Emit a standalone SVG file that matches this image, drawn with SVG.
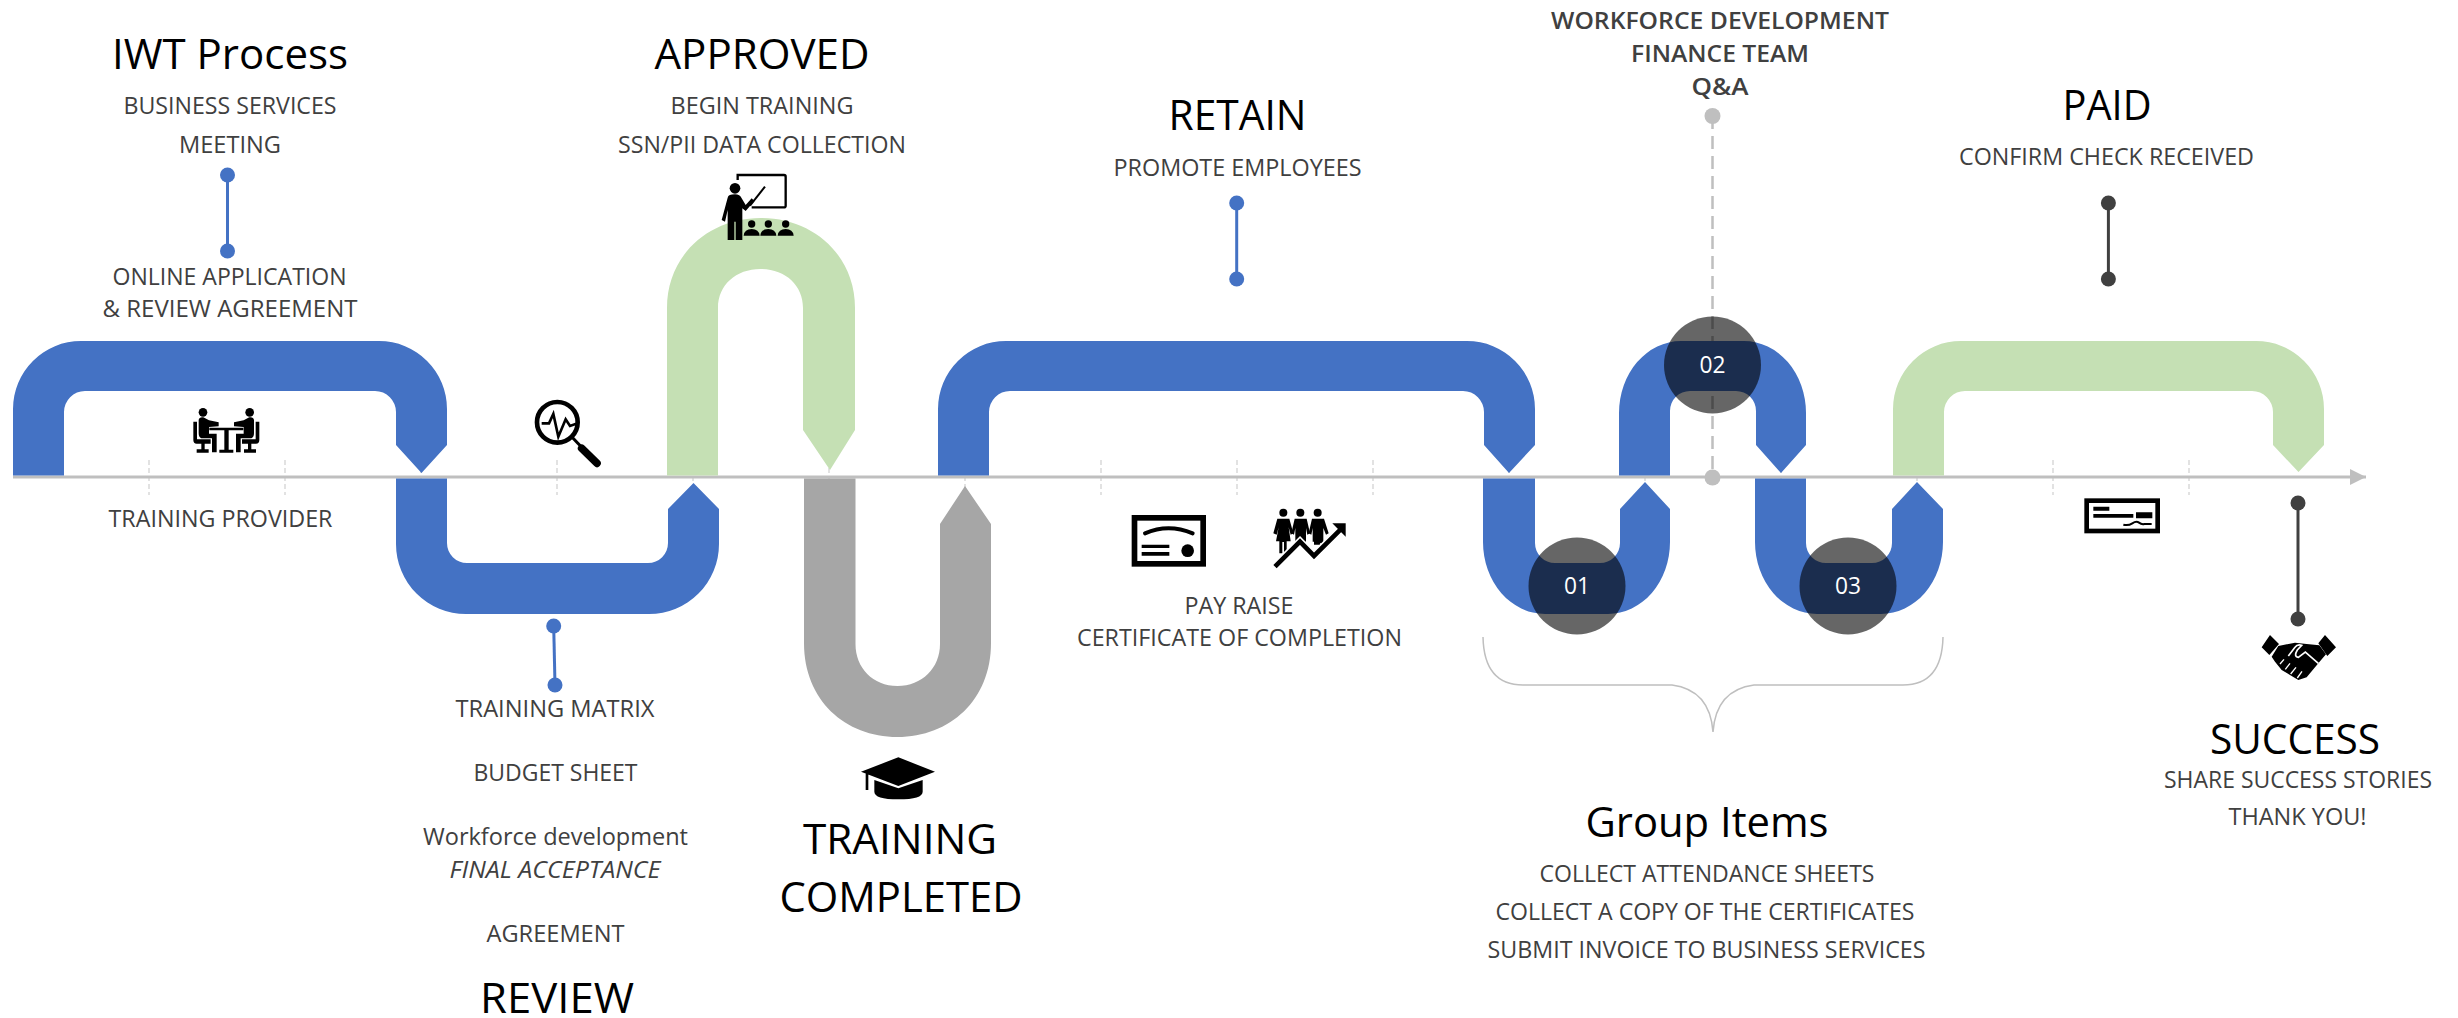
<svg xmlns="http://www.w3.org/2000/svg" width="2458" height="1018" viewBox="0 0 2458 1018">
<style>
text{font-family:"Open Sans","Noto Sans","Liberation Sans",sans-serif;text-anchor:middle}
.t{font-size:42px;fill:#000}
.b{font-size:24px;fill:#404040}
.s{font-weight:600}
.i{font-style:italic}
.n{font-size:23px;fill:#fff}
.blue{fill:#4472C4}.green{fill:#C5E0B4}.gray{fill:#A6A6A6}
.disc{fill:#000;fill-opacity:.6}
.tick{stroke:#D9D9D9;stroke-width:1.5;stroke-dasharray:5 3;fill:none}
.sb{stroke:#4472C4;stroke-width:3;fill:none}.db{fill:#4472C4}
.sd{stroke:#404040;stroke-width:3;fill:none}.dd{fill:#404040}
.k{fill:#000}.o{fill:none;stroke:#000}.w{fill:none;stroke:#fff}
</style>
<defs>
<marker id="arrow" markerUnits="userSpaceOnUse" markerWidth="17" markerHeight="18" refX="16" refY="9" orient="auto"><path d="M0 1L16 9L0 17Z" fill="#BFBFBF"/></marker>
</defs>
<g id="connectors">
<path class="tick" d="M149 460V495M285 460V495M421 460V495M557 460V495M693 460V495M829 460V495M965 460V495M1101 460V495M1237 460V495M1373 460V495M1509 460V495M1645 460V495M1781 460V495M1917 460V495M2053 460V495M2189 460V495"/>
<path d="M13 477H2366" stroke="#BFBFBF" stroke-width="3" fill="none" marker-end="url(#arrow)"/>
<path class="sb" d="M227.500 175V251"/><circle class="db" cx="227.500" cy="175" r="7.500"/><circle class="db" cx="227.500" cy="251" r="7.500"/>
<path class="sb" d="M553.700 626L555 685"/><circle class="db" cx="553.700" cy="626" r="7.500"/><circle class="db" cx="555" cy="685" r="7.500"/>
<path class="sb" d="M1236.700 203V279"/><circle class="db" cx="1236.700" cy="203" r="7.500"/><circle class="db" cx="1236.700" cy="279" r="7.500"/>
<path class="sd" d="M2108.400 203V279"/><circle class="dd" cx="2108.400" cy="203" r="7.500"/><circle class="dd" cx="2108.400" cy="279" r="7.500"/>
<path class="sd" d="M2298 503V619"/><circle class="dd" cx="2298" cy="503" r="7.500"/><circle class="dd" cx="2298" cy="619" r="7.500"/>
<path d="M1712.500 116V477" stroke="#BFBFBF" stroke-width="2.500" stroke-dasharray="13 7" fill="none"/>
<circle cx="1712.500" cy="116" r="8" fill="#BFBFBF"/><circle cx="1712.500" cy="477.500" r="8" fill="#BFBFBF"/>
<path d="M1483 637Q1484 685 1523 685H1672Q1710 690 1713 732Q1716 690 1754 685H1903Q1942 685 1943 637" stroke="#BFBFBF" stroke-width="1.500" fill="none"/>
</g>
<g id="node-iwt">
<path class="blue" d="M13 475.500V409A68 68 0 0 1 81 341H379A68 68 0 0 1 447 409V445L421.500 473L396 445V412A21 21 0 0 0 375 391H85A21 21 0 0 0 64 412V475.500Z"/>
<g transform="translate(180 395) scale(.33333)">
<circle class="k" cx="69" cy="52" r="13"/>
<path class="k" d="M56 75Q58 65 70 67L87 76L116 82V94L87 96V116H110V172H96V130H64Q56 127 56 115ZM40 80H51V133H92V146H74V163H86V173H50V163H64V146H50Q40 146 40 135Z"/>
<circle class="k" cx="209" cy="52" r="13"/>
<path class="k" d="M222 75Q220 65 208 67L191 76L162 82V94L191 96V116H168V172H182V130H214Q222 127 222 115ZM238 80H227V133H186V146H204V163H192V173H228V163H214V146H228Q238 146 238 135Z"/>
<path class="k" d="M88 98H190V106H146V164H160V173H118V164H133V106H88Z"/>
</g>
<text class="t" x="230" y="68.500" textLength="236" lengthAdjust="spacingAndGlyphs">IWT Process</text>
<text class="b" x="230" y="114" textLength="213" lengthAdjust="spacingAndGlyphs">BUSINESS SERVICES</text>
<text class="b" x="230" y="152.500" textLength="102" lengthAdjust="spacingAndGlyphs">MEETING</text>
<text class="b" x="229.500" y="285" textLength="234" lengthAdjust="spacingAndGlyphs">ONLINE APPLICATION</text>
<text class="b" x="230" y="316.500" textLength="255" lengthAdjust="spacingAndGlyphs">&amp; REVIEW AGREEMENT</text>
<text class="b" x="220.500" y="526.500" textLength="224" lengthAdjust="spacingAndGlyphs">TRAINING PROVIDER</text>
</g>
<g id="node-review">
<path class="blue" d="M396 478.500V544A70 70 0 0 0 466 614H649A70 70 0 0 0 719 544V509L693.500 483L668 509V543A20 20 0 0 1 648 563H467A20 20 0 0 1 447 543V478.500Z"/>
<g transform="translate(525 390) scale(.33333)">
<circle class="o" cx="97" cy="97" r="61" stroke-width="14"/>
<path class="o" d="M50 100H72L85 72L100 140L122 88L135 108L158 100" stroke-width="8"/>
<path class="o" d="M140 140L170 172" stroke-width="9"/>
<path class="o" d="M170 175L216 220" stroke-width="23" stroke-linecap="round"/>
</g>
<text class="b" x="555" y="716.500" textLength="199" lengthAdjust="spacingAndGlyphs">TRAINING MATRIX</text>
<text class="b" x="555.500" y="780.500" textLength="164" lengthAdjust="spacingAndGlyphs">BUDGET SHEET</text>
<text class="b" x="555.500" y="844.500" textLength="265" lengthAdjust="spacingAndGlyphs">Workforce development</text>
<text class="b i" x="555" y="878" textLength="211" lengthAdjust="spacingAndGlyphs">FINAL ACCEPTANCE</text>
<text class="b" x="555.500" y="941.500" textLength="138" lengthAdjust="spacingAndGlyphs">AGREEMENT</text>
<text class="t" x="557" y="1013" textLength="154" lengthAdjust="spacingAndGlyphs">REVIEW</text>
</g>
<g id="node-approved">
<path class="green" d="M667 475.500V308C667 255 709 218 761 218S855 255 855 308V430L830 470L803 430V308C803 285 785 269 760.500 269S718 285 718 308V475.500Z"/>
<g transform="translate(715 165) scale(.33333)">
<circle class="k" cx="60" cy="70" r="16"/>
<path class="o" d="M68 45V30H207Q212 30 212 35V122Q212 127 207 127H110" stroke-width="7"/>
<path class="o" d="M105 122L150 65" stroke-width="6"/>
<path class="k" d="M38 98Q40 88 60 88Q75 88 80 100L92 120L110 100L118 108L92 138L82 130V225H62V170H58V225H38V135L30 170L20 165Z"/>
<circle class="k" cx="110" cy="177" r="11"/><path class="k" d="M86 212Q88 192 110 192Q132 192 134 212Z"/>
<circle class="k" cx="160" cy="177" r="11"/><path class="k" d="M136 212Q138 192 160 192Q182 192 184 212Z"/>
<circle class="k" cx="212" cy="177" r="11"/><path class="k" d="M188 212Q190 192 212 192Q234 192 236 212Z"/>
</g>
<text class="t" x="762" y="68.500" textLength="215" lengthAdjust="spacingAndGlyphs">APPROVED</text>
<text class="b" x="762" y="114" textLength="183" lengthAdjust="spacingAndGlyphs">BEGIN TRAINING</text>
<text class="b" x="762" y="152.500" textLength="288" lengthAdjust="spacingAndGlyphs">SSN/PII DATA COLLECTION</text>
</g>
<g id="node-completed">
<path class="gray" d="M804 478.500V643C804 700 845 737 897.500 737S991 700 991 643V524L965 486L940 524V644C940 668 922 686 897.500 686S855.500 668 855.500 644V478.500Z"/>
<g transform="translate(855 750) scale(.33333)">
<path class="k" d="M130 22L240 65L130 108L18 65ZM32 70H40V120H32ZM58 90L130 115L203 90V125Q203 148 130 148Q58 148 58 125Z"/>
</g>
<text class="t" x="900" y="853.500" textLength="194" lengthAdjust="spacingAndGlyphs">TRAINING</text>
<text class="t" x="901" y="912" textLength="243" lengthAdjust="spacingAndGlyphs">COMPLETED</text>
</g>
<g id="node-retain">
<path class="blue" d="M938 475.500V409A68 68 0 0 1 1006 341H1467A68 68 0 0 1 1535 409V445L1509 473L1484 445V412A21 21 0 0 0 1463 391H1010A21 21 0 0 0 989 412V475.500Z"/>
<g transform="translate(1120 500) scale(.33333)">
<rect class="o" x="43.500" y="53.500" width="206" height="138" stroke-width="17"/>
<path class="o" d="M75 100Q145 70 218 100" stroke-width="12" stroke-linecap="round"/>
<path class="k" d="M65 134H148V144H65ZM65 156H148V167H65Z"/>
<circle class="k" cx="203" cy="152" r="19"/>
<circle class="k" cx="490" cy="38" r="12"/><circle class="k" cx="541" cy="38" r="12"/><circle class="k" cx="593" cy="38" r="12"/>
<path class="k" d="M472 56H508L520 100L512 104L506 82L512 124H500V160H492V126H487V160H478V124H468L476 82L470 104L460 100Z"/>
<path class="k" d="M524 56H560L570 100L562 104L558 84V125H526V84L522 104L514 100Z"/>
<path class="k" d="M576 56H612L626 100L618 104L610 84V130H600V134H582V125H578V84L574 104L566 100Z"/>
<path class="w" d="M465 200L540 125L582 168L662 88" stroke-width="24"/>
<path class="o" d="M465 200L540 125L582 168L662 88" stroke-width="14"/>
<path class="k" d="M637 70H677V110Z"/>
</g>
<text class="t" x="1237.500" y="129.600" textLength="138" lengthAdjust="spacingAndGlyphs">RETAIN</text>
<text class="b" x="1237.500" y="176" textLength="248" lengthAdjust="spacingAndGlyphs">PROMOTE EMPLOYEES</text>
<text class="b" x="1239" y="613.500" textLength="109" lengthAdjust="spacingAndGlyphs">PAY RAISE</text>
<text class="b" x="1239.500" y="645.500" textLength="325" lengthAdjust="spacingAndGlyphs">CERTIFICATE OF COMPLETION</text>
</g>
<g id="node-01">
<path class="blue" d="M1483 478.500V542A62 72 0 0 0 1545 614H1608A62 72 0 0 0 1670 542V509L1645 482L1620 509V543A20 20 0 0 1 1600 563H1555A20 20 0 0 1 1535 543V478.500Z"/>
<circle class="disc" cx="1577" cy="586" r="48.500"/>
<text class="n" x="1577" y="594" textLength="26" lengthAdjust="spacingAndGlyphs">01</text>
</g>
<g id="node-02">
<path class="blue" d="M1619 475.500V413A62 72 0 0 1 1681 341H1744A62 72 0 0 1 1806 413V445L1781 473L1756 445V411A20 20 0 0 0 1736 391H1690A20 20 0 0 0 1670 411V475.500Z"/>
<circle class="disc" cx="1712.500" cy="365" r="48.500"/>
<text class="n" x="1712.500" y="373" textLength="26" lengthAdjust="spacingAndGlyphs">02</text>
<text class="b s" x="1725" y="28.500" textLength="338" lengthAdjust="spacingAndGlyphs" transform="translate(-5 0)">WORKFORCE DEVELOPMENT</text>
<text class="b s" x="1720" y="61.500" textLength="178" lengthAdjust="spacingAndGlyphs">FINANCE TEAM</text>
<text class="b s" x="1720" y="94.500" textLength="57" lengthAdjust="spacingAndGlyphs">Q&amp;A</text>
</g>
<g id="node-03">
<path class="blue" d="M1755 478.500V542A62 72 0 0 0 1817 614H1881A62 72 0 0 0 1943 542V509L1917 482L1892 509V543A20 20 0 0 1 1872 563H1826A20 20 0 0 1 1806 543V478.500Z"/>
<circle class="disc" cx="1848" cy="586" r="48.500"/>
<text class="n" x="1848" y="594" textLength="26" lengthAdjust="spacingAndGlyphs">03</text>
</g>
<g id="node-group">
<text class="t" x="1707" y="837" textLength="243" lengthAdjust="spacingAndGlyphs">Group Items</text>
<text class="b" x="1707" y="881.500" textLength="335" lengthAdjust="spacingAndGlyphs">COLLECT ATTENDANCE SHEETS</text>
<text class="b" x="1705" y="919.500" textLength="419" lengthAdjust="spacingAndGlyphs">COLLECT A COPY OF THE CERTIFICATES</text>
<text class="b" x="1706.500" y="957.500" textLength="438" lengthAdjust="spacingAndGlyphs">SUBMIT INVOICE TO BUSINESS SERVICES</text>
</g>
<g id="node-paid">
<path class="green" d="M1893 475.500V409A68 68 0 0 1 1961 341H2256A68 68 0 0 1 2324 409V445L2298.500 472L2273 445V412A21 21 0 0 0 2252 391H1965A21 21 0 0 0 1944 412V475.500Z"/>
<g transform="translate(2075 490) scale(.33333)">
<rect class="o" x="35" y="32" width="213" height="91" stroke-width="14"/>
<path class="k" d="M55 50H103V62H55ZM55 72H175V83H55ZM183 67H232V85H183Z"/>
<path class="o" d="M145 104Q160 108 172 100T192 98T208 102H230" stroke-width="6"/>
</g>
<text class="t" x="2107" y="120" textLength="89" lengthAdjust="spacingAndGlyphs">PAID</text>
<text class="b" x="2106.500" y="164.500" textLength="295" lengthAdjust="spacingAndGlyphs">CONFIRM CHECK RECEIVED</text>
</g>
<g id="node-success">
<g transform="translate(2240 620) scale(.33333)">
<path class="k" d="M90 45L117 72L88 105L65 82ZM255 45L288 82L262 108L235 70Z"/>
<path class="k" d="M115 78L165 68L200 72L238 76L258 103L235 130L200 172L175 180L150 165L125 150L105 125L95 110Z"/>
<path class="w" d="M145 108L165 82Q172 72 185 76L172 90Q160 110 175 112L196 96L235 130" stroke-width="5"/>
<path class="w" d="M132 118L120 132M150 130L136 148M168 142L152 162M186 154L172 174" stroke-width="4"/>
</g>
<text class="t" x="2295" y="754" textLength="170" lengthAdjust="spacingAndGlyphs">SUCCESS</text>
<text class="b" x="2298" y="787.500" textLength="268" lengthAdjust="spacingAndGlyphs">SHARE SUCCESS STORIES</text>
<text class="b" x="2297.500" y="825" textLength="138" lengthAdjust="spacingAndGlyphs">THANK YOU!</text>
</g>
</svg>
